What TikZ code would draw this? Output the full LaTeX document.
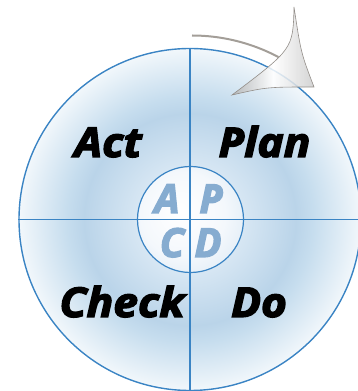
\documentclass[tikz,border=0pt]{standalone}
\usepackage{fontspec}
\setmainfont{Open Sans}
\newfontfamily\heavyfont[FakeBold=3.2]{Open Sans Bold Italic}
\definecolor{lineblue}{HTML}{3A84C4}
\definecolor{letterblue}{HTML}{86ACD0}
\definecolor{arcgray}{HTML}{A39E98}
\definecolor{sA}{HTML}{F4F8FC}
\definecolor{sB}{HTML}{D6E6F3}
\definecolor{sC}{HTML}{BAD4E9}
\definecolor{sD}{HTML}{C6DDEE}
\definecolor{sE}{HTML}{F8FBFD}
\definecolor{sF}{HTML}{D3E5F2}
\definecolor{sG}{HTML}{B1CFE7}
\definecolor{sH}{HTML}{90B9DC}
\pgfdeclareradialshading{bigshade}{\pgfpoint{0bp}{0bp}}{%
  color(0bp)=(sA); color(8bp)=(sB); color(15.5bp)=(sC); color(18bp)=(sD);
  color(26bp)=(sE); color(35bp)=(sF); color(43bp)=(sG);
  color(50bp)=(sH)}
\pgfdeclareradialshading{innershade}{\pgfpoint{-6bp}{4bp}}{%
  color(0bp)=(white); color(20bp)=(sA); color(38bp)=(sB); color(50bp)=(sC)}
\begin{document}
\begin{tikzpicture}[x=1pt,y=1pt,
  bigword/.style={font=\fontsize{41}{41}\heavyfont, text=black, anchor=base, inner sep=0pt, xscale=1.08},
  smallword/.style={font=\fontsize{40}{40}\heavyfont, text=letterblue, anchor=base, inner sep=0pt},
  divider/.style={draw=lineblue, line width=1.2pt},
  ring/.style={circle, draw=lineblue, inner sep=0pt}]
\useasboundingbox (0,0) rectangle (358,391);
\node[ring, shading=bigshade, line width=1.4pt, minimum size=342pt] (big) at (190,171.5) {};
\node[circle, shading=innershade, inner sep=0pt, minimum size=106pt] (innerfill) at (190.5,171.5) {};
\draw[divider] (big.north) -- (big.south);
\draw[divider] (big.west) -- (big.east);
\node[ring, line width=1.2pt, minimum size=106pt] (inner) at (190.5,171.5) {};
\node[bigword] (act) at (108,234) {Act};
\node[bigword] (plan) at (264.5,234) {Plan};
\node[bigword] (check) at (122,74) {Check};
\node[bigword] (do) at (259,74) {Do};
\node[smallword] (la) at (167,178) {A};
\node[smallword] (lp) at (211,178) {P};
\node[smallword] (lc) at (172,134) {C};
\node[smallword] (ld) at (208,134) {D};
% circular arrow
\coordinate (arcstart) at (192,355.5);
\draw[arcgray, line width=2pt] (arcstart) arc[start angle=90, end angle=62, radius=184];
\draw[draw=arcgray!90!black, line width=0.6pt, fill opacity=0.85,
      left color=gray!60, right color=gray!40, middle color=white]
  (294,384) .. controls (293,342) .. (232,296)
  .. controls (267,304) .. (314,304)
  .. controls (301,338) .. cycle;
\end{tikzpicture}
\end{document}
